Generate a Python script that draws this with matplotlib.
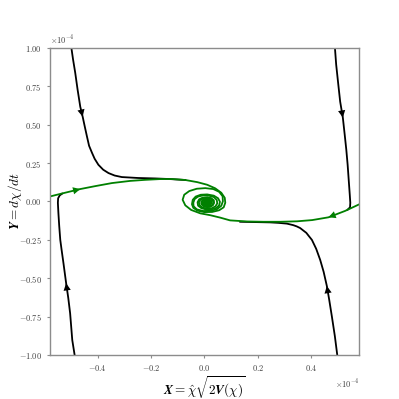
import matplotlib
matplotlib.use("Agg")
import matplotlib.pyplot as plt
import numpy as np

plt.rcParams['font.family'] = 'serif'
plt.rcParams['font.serif'] = ['cmr10', 'DejaVu Serif']
plt.rcParams['mathtext.fontset'] = 'cm'
plt.rcParams['axes.formatter.use_mathtext'] = True

SCALE = 1e-4

# trajectories (X, Y) in units of 1e-4
black1_x = [-0.500, -0.493, -0.485, -0.476, -0.466, -0.457, -0.449, -0.441, -0.433, -0.422, -0.412, -0.398, -0.380, -0.360, -0.337, -0.310, -0.249, -0.185, -0.129, -0.072]
black1_y = [1.008, 0.924, 0.839, 0.728, 0.617, 0.552, 0.487, 0.424, 0.363, 0.317, 0.278, 0.239, 0.207, 0.185, 0.169, 0.159, 0.153, 0.150, 0.146, 0.140]

black2_x = [-0.486, -0.496, -0.504, -0.511, -0.519, -0.529, -0.536, -0.541, -0.545, -0.548, -0.550, -0.549, -0.543, -0.534]
black2_y = [-1.012, -0.902, -0.728, -0.628, -0.532, -0.402, -0.315, -0.250, -0.158, -0.076, -0.008, 0.021, 0.040, 0.051]

black3_x = [0.489, 0.494, 0.502, 0.509, 0.519, 0.526, 0.532, 0.537, 0.541, 0.545, 0.547, 0.546, 0.537]
black3_y = [1.008, 0.891, 0.761, 0.650, 0.546, 0.435, 0.337, 0.239, 0.141, 0.044, -0.008, -0.038, -0.053]

black4_x = [0.499, 0.489, 0.478, 0.468, 0.459, 0.447, 0.434, 0.419, 0.403, 0.391, 0.382, 0.370, 0.359, 0.346, 0.333, 0.309, 0.277, 0.247, 0.190, 0.134]
black4_y = [-1.012, -0.876, -0.750, -0.641, -0.550, -0.458, -0.380, -0.308, -0.250, -0.224, -0.204, -0.188, -0.173, -0.162, -0.154, -0.144, -0.139, -0.136, -0.134, -0.132]

greenA_x = [-0.579, -0.523, -0.466, -0.410, -0.347, -0.279, -0.222, -0.166, -0.121, -0.072, -0.027, 0.010, 0.040, 0.063, 0.076, 0.078,
            0.072, 0.055, 0.029, -0.001, -0.027, -0.042, -0.047, -0.044, -0.033, -0.014, 0.010, 0.035, 0.051, 0.058,
            0.055, 0.044, 0.027, 0.006, -0.012, -0.024, -0.026, -0.020, -0.007, 0.010, 0.025, 0.035, 0.036, 0.031,
            0.020, 0.006, -0.005, -0.012, -0.012, -0.006, 0.006, 0.018, 0.026, 0.027, 0.021, 0.012, 0.003, -0.003,
            -0.002, 0.005, 0.013, 0.019, 0.018, 0.013, 0.007, 0.005, 0.008, 0.012, 0.011]
greenA_y = [0.033, 0.057, 0.081, 0.100, 0.120, 0.134, 0.141, 0.146, 0.146, 0.140, 0.126, 0.109, 0.086, 0.057, 0.024, -0.008,
            -0.038, -0.057, -0.068, -0.069, -0.059, -0.041, -0.018, 0.011, 0.032, 0.044, 0.046, 0.038, 0.021, -0.002,
            -0.025, -0.042, -0.051, -0.052, -0.043, -0.027, -0.005, 0.014, 0.025, 0.027, 0.022, 0.008, -0.010, -0.025,
            -0.035, -0.036, -0.029, -0.016, -0.001, 0.011, 0.016, 0.014, 0.003, -0.011, -0.022, -0.025, -0.022, -0.012,
            0.000, 0.007, 0.006, -0.002, -0.012, -0.017, -0.015, -0.008, -0.002, -0.004, -0.008]

greenB_x = [0.581, 0.528, 0.465, 0.404, 0.347, 0.284, 0.221, 0.160, 0.096, 0.059, 0.021, -0.016, -0.050, -0.072, -0.082, -0.076,
            -0.057, -0.029, 0.003, 0.033, 0.055, 0.068, 0.069, 0.063, 0.046, 0.023, -0.005, -0.029, -0.041, -0.042,
            -0.037, -0.024, -0.005, 0.016, 0.035, 0.046, 0.048, 0.041, 0.027, 0.008, -0.009, -0.019, -0.021, -0.015,
            -0.003, 0.012, 0.025, 0.033, 0.032, 0.024, 0.011, 0.000, -0.008, -0.008, -0.002, 0.008, 0.017, 0.023,
            0.022, 0.015, 0.006, 0.000, 0.001, 0.007, 0.014, 0.016, 0.012, 0.008, 0.008]
greenB_y = [-0.018, -0.061, -0.103, -0.121, -0.129, -0.132, -0.132, -0.130, -0.123, -0.105, -0.089, -0.077, -0.055, -0.025, 0.011, 0.044,
            0.068, 0.083, 0.087, 0.081, 0.063, 0.034, 0.001, -0.028, -0.051, -0.061, -0.062, -0.051, -0.031, -0.008,
            0.016, 0.032, 0.040, 0.038, 0.029, 0.010, -0.012, -0.032, -0.044, -0.046, -0.038, -0.023, -0.004, 0.012,
            0.022, 0.024, 0.016, 0.000, -0.018, -0.030, -0.034, -0.029, -0.016, -0.001, 0.009, 0.014, 0.009, -0.002,
            -0.015, -0.023, -0.023, -0.015, -0.004, 0.003, 0.001, -0.008, -0.014, -0.012, -0.007]

# index of the segment carrying an arrow head on each curve
arrow_black1 = 5
arrow_black2 = 4
arrow_black3 = 4
arrow_black4 = 4
arrow_greenA = 2
arrow_greenB = 2

fig = plt.figure(figsize=(3.99, 3.99), dpi=100)
ax = fig.add_axes([0.125, 0.11, 0.775, 0.77])

def draw(xs, ys, color, idx):
    x = np.array(xs) * SCALE
    y = np.array(ys) * SCALE
    ax.plot(x, y, color=color, lw=1.3, solid_joinstyle='round')
    p0, p1 = (x[idx - 1], y[idx - 1]), (x[idx], y[idx])
    ax.annotate('', xy=p1, xytext=p0,
                arrowprops=dict(arrowstyle='-|>', color=color, lw=0,
                                mutation_scale=13, shrinkA=0, shrinkB=0))

draw(black1_x, black1_y, 'black', arrow_black1)
draw(black2_x, black2_y, 'black', arrow_black2)
draw(black3_x, black3_y, 'black', arrow_black3)
draw(black4_x, black4_y, 'black', arrow_black4)
draw(greenA_x, greenA_y, 'green', arrow_greenA)
draw(greenB_x, greenB_y, 'green', arrow_greenB)

ax.set_xlim(-0.58 * SCALE, 0.58 * SCALE)
ax.set_ylim(-1.0 * SCALE, 1.0 * SCALE)
ax.set_xticks(np.array([-0.4, -0.2, 0.0, 0.2, 0.4]) * SCALE)
ax.set_yticks(np.array([-1.0, -0.75, -0.5, -0.25, 0.0, 0.25, 0.5, 0.75, 1.0]) * SCALE)
ax.ticklabel_format(style='sci', axis='both', scilimits=(-4, -4), useMathText=True)

for s in ax.spines.values():
    s.set_color('0.55')
    s.set_linewidth(1.0)
ax.tick_params(colors='0.55', labelcolor='0.25', labelsize=6, length=2.5, width=0.8)
ax.xaxis.get_offset_text().set_fontsize(6)
ax.yaxis.get_offset_text().set_fontsize(6)
ax.xaxis.get_offset_text().set_color('0.25')
ax.yaxis.get_offset_text().set_color('0.25')

ax.set_xlabel(r'$\mathbfit{X} = \hat{\chi}\sqrt{2\mathbfit{V}(\chi)}$', fontsize=9.5)
ax.set_ylabel(r'$\mathbfit{Y} = d\chi/dt$', fontsize=9.5)
ax.xaxis.set_label_coords(0.5, -0.062)
ax.yaxis.set_label_coords(-0.085, 0.5)

fig.savefig('out.png', dpi=100)
